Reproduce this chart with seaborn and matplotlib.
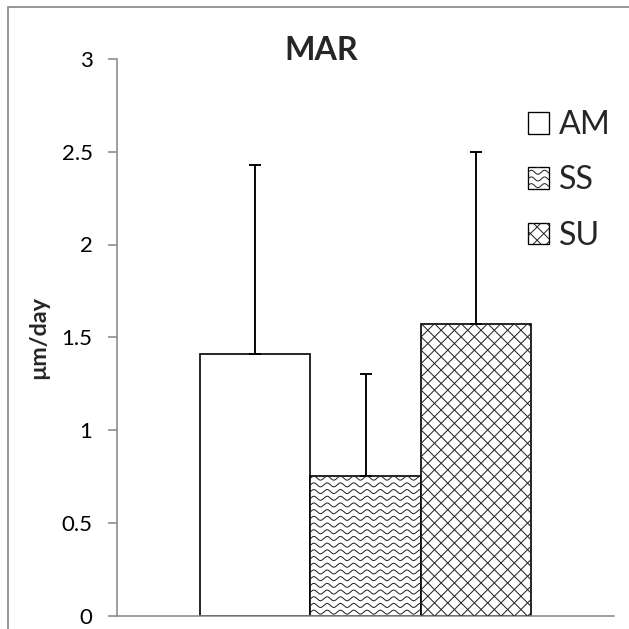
import warnings
import numpy as np
import pandas as pd
import matplotlib
matplotlib.use("Agg")
import matplotlib.pyplot as plt
import matplotlib.patches as mpatches
from matplotlib.lines import Line2D
from matplotlib.transforms import IdentityTransform
import seaborn as sns

warnings.filterwarnings("ignore")

# ---- data -------------------------------------------------------------
groups = ["AM", "SS", "SU"]
mar_mean = [1.41, 0.75, 1.57]
mar_err_upper = [1.02, 0.55, 0.93]
y_ticks = [0, 0.5, 1, 1.5, 2, 2.5, 3]
y_tick_labels = ["0", "0.5", "1", "1.5", "2", "2.5", "3"]
fills = [None, "wave", "cross"]

# ---- style --------------------------------------------------------------
DPI = 80
sns.set_style("white")
plt.rcParams["font.family"] = ["Lato", "DejaVu Sans"]

axis_gray = "#878787"

fig = plt.figure(figsize=(629 / DPI, 629 / DPI), dpi=DPI)
ax = fig.add_axes([117 / 629, 13.5 / 629, (614 - 117) / 629, (615.5 - 59) / 629])

df = pd.DataFrame({"cat": [""] * len(groups), "group": groups, "value": mar_mean})
sns.barplot(
    data=df, x="cat", y="value", hue="group", hue_order=groups,
    palette=["white"] * len(groups), edgecolor="black", linewidth=1.5,
    width=0.664, errorbar=None, legend=False, ax=ax, saturation=1,
)

bars = []
for cont in ax.containers:
    for bar in cont:
        bar.set_edgecolor("black")
        bar.set_zorder(1)
        bars.append(bar)
centers = [b.get_x() + b.get_width() / 2 for b in bars]

ax.errorbar(
    centers, mar_mean, yerr=[np.zeros(len(mar_mean)), mar_err_upper],
    fmt="none", ecolor="black", elinewidth=1.7, capsize=5.4, capthick=1.7,
    zorder=4,
)

ax.set_xlim(-0.5, 0.5)
ax.set_ylim(0, 3)
ax.set_yticks(y_ticks)
ax.set_yticklabels(y_tick_labels)
ax.set_xticks([])
ax.set_xlabel("")
ax.set_ylabel("µm/day", fontsize=21, fontweight="bold")
ax.yaxis.set_label_coords(-0.137, 0.5)

for side in ["top", "right"]:
    ax.spines[side].set_visible(False)
for side in ["left", "bottom"]:
    ax.spines[side].set_color(axis_gray)
    ax.spines[side].set_linewidth(1.4)
ax.tick_params(axis="y", which="major", direction="out", length=8, width=1.4,
               color=axis_gray, labelsize=20, pad=14, labelcolor="black", left=True)

fig.text(321 / 629, 1 - 51 / 629, "MAR", ha="center", va="center",
         fontsize=29, fontweight="bold")

handles = [mpatches.Patch(facecolor="white", edgecolor="black", linewidth=1.2)
           for _ in groups]
leg = fig.legend(handles, groups, loc="upper left",
                 bbox_to_anchor=(528 / 629, 1 - 110 / 629),
                 frameon=False, fontsize=29, handlelength=0.66, handleheight=0.66,
                 handletextpad=0.3, labelspacing=0.79, borderpad=0, borderaxespad=0)

# chart-area border
fig.add_artist(mpatches.Rectangle((7.5 / 629, -0.1), 1.2, 1.1 - 6.5 / 629,
                                  transform=fig.transFigure, fill=False,
                                  edgecolor="#8c8c8c", linewidth=1.6))


# ---- fill textures, drawn in pixel space and clipped to each patch -------
def wave_paths(bb, period=13.3, spacing=6.7, amp=2.0):
    xs = np.linspace(bb.x0 - 2, bb.x1 + 2, int(bb.width * 3) + 10)
    out = []
    for yc in np.arange(bb.y0 + spacing * 0.5, bb.y1 + spacing, spacing):
        out.append((xs, yc + amp * np.sin(2 * np.pi * (xs - bb.x0) / period)))
    return out


def cross_paths(bb, period=13.3):
    h = bb.height
    out = []
    for c in np.arange(bb.x0 - h - period, bb.x1 + h + period, period):
        out.append(([c, c + h], [bb.y0, bb.y1]))
        out.append(([c + h, c], [bb.y0, bb.y1]))
    return out


def add_texture(patch, kind, zorder):
    if kind is None:
        return
    bb = patch.get_window_extent()
    paths = wave_paths(bb) if kind == "wave" else cross_paths(bb)
    for xs, ys in paths:
        ln = Line2D(xs, ys, transform=IdentityTransform(), color="#222222",
                    linewidth=0.9, zorder=zorder)
        ln.set_clip_box(bb)
        fig.add_artist(ln)


fig.canvas.draw()
for bar, kind in zip(bars, fills):
    add_texture(bar, kind, 1)
for patch, kind in zip(leg.get_patches(), fills):
    add_texture(patch, kind, 6)

fig.savefig("out.png", dpi=DPI)
